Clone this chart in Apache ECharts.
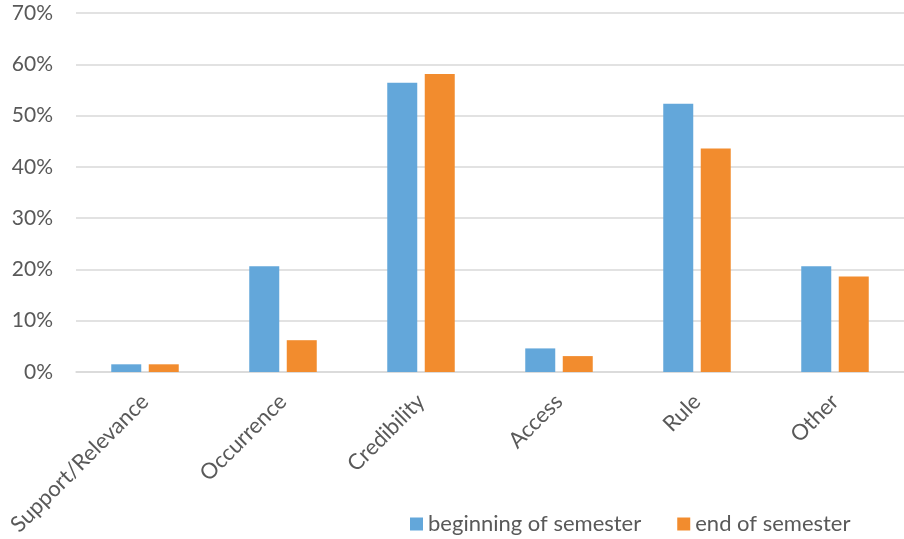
<!DOCTYPE html>
<html><head><meta charset="utf-8">
<script src="https://cdn.jsdelivr.net/npm/echarts@6/dist/echarts.min.js"></script>
<style>html,body{margin:0;padding:0;background:#fff}#c{width:904px;height:539px}</style>
</head><body><div id="c"></div>
<script>
const categories = ['Support/Relevance','Occurrence','Credibility','Access','Rule','Other'];
const beginning = [1.5, 20.6, 56.4, 4.6, 52.3, 20.6];
const endSem = [1.5, 6.2, 58.1, 3.1, 43.6, 18.6];
const seriesNames = ['beginning of semester','end of semester'];
const font = 'Lato, "Open Sans", sans-serif';
const chart = echarts.init(document.getElementById('c'));
chart.setOption({
  animation:false,
  grid:{left:76,right:0,top:13,bottom:167,containLabel:false},
  legend:{top:508,left:405,itemWidth:13,itemHeight:13,itemGap:36,
    textStyle:{fontFamily:font,fontSize:22,color:'#595959'},
    icon:'rect',data:seriesNames},
  xAxis:{type:'category',data:categories,
    axisLine:{lineStyle:{color:'#d9d9d9',width:1.5}},axisTick:{show:false},
    axisLabel:{rotate:45,fontFamily:font,fontSize:22,color:'#595959',margin:26,interval:0}},
  yAxis:{type:'value',min:0,max:70,interval:10,
    axisLine:{show:false},axisTick:{show:false},
    splitLine:{lineStyle:{color:'#d9d9d9',width:1.5}},
    axisLabel:{formatter:'{value}%',fontFamily:font,fontSize:21,color:'#595959',margin:23}},
  series:[
    {name:seriesNames[0],type:'bar',data:beginning,barWidth:30,barGap:'25%',itemStyle:{color:'#63a7da'}},
    {name:seriesNames[1],type:'bar',data:endSem,barWidth:30,barGap:'25%',itemStyle:{color:'#f28c2e'}}
  ]
});
</script></body></html>
